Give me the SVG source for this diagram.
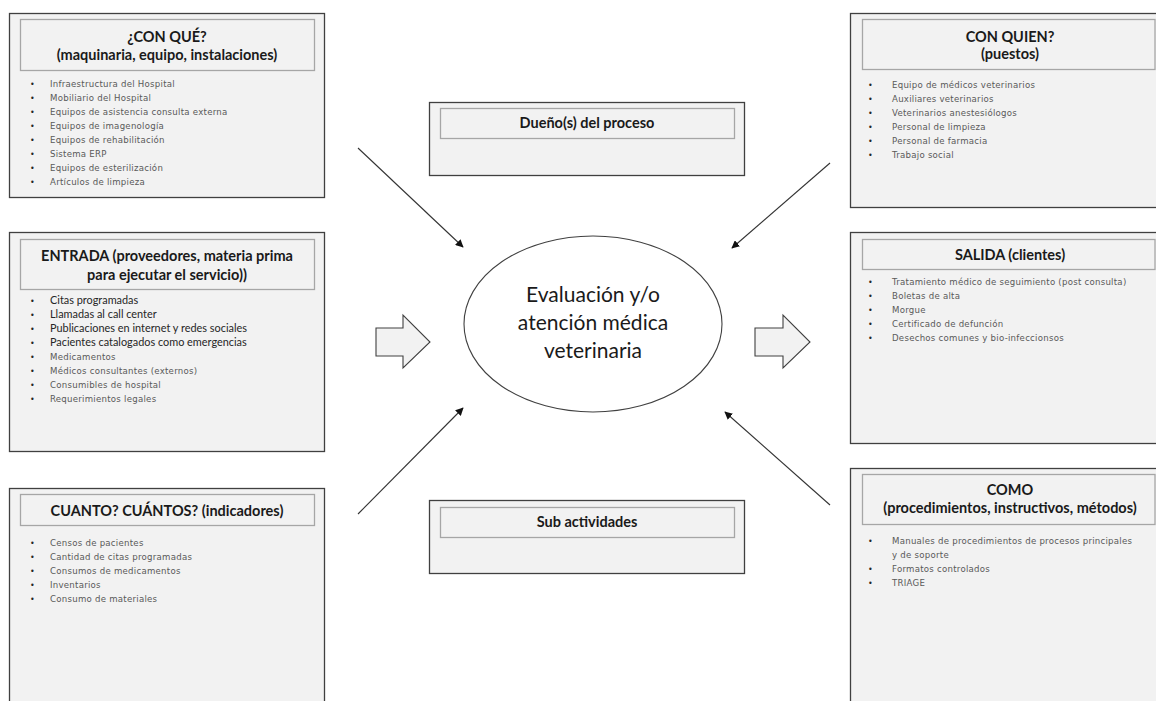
<svg xmlns="http://www.w3.org/2000/svg" width="1156" height="701" viewBox="0 0 1156 701">
  <style>
    .box { fill: #f2f2f2; stroke: #404040; stroke-width: 1.3; }
    .hdr { fill: #f2f2f2; stroke: #a6a6a6; stroke-width: 1.3; }
    .ttl { font-family: Lato, "Liberation Sans", sans-serif; font-weight: bold; font-size: 14.5px; fill: #1a1a1a; text-anchor: middle; }
    .ttl-s { font-family: Lato, "Liberation Sans", sans-serif; font-weight: bold; font-size: 14.5px; fill: #1a1a1a; text-anchor: middle; }
    .it { font-family: "DejaVu Sans", Verdana, sans-serif; font-size: 8.6px; letter-spacing: 0.25px; fill: #595959; }
    .it2 { font-family: Lato, "Liberation Sans", sans-serif; font-size: 10.9px; fill: #262626; }
    .bul { font-family: "DejaVu Sans", sans-serif; font-size: 8px; fill: #262626; }
    .core { font-family: Lato, "Liberation Sans", sans-serif; font-size: 21px; fill: #1a1a1a; text-anchor: middle; }
    .link { stroke: #333; stroke-width: 1.1; fill: none; marker-end: url(#tip); }
    .big { fill: #f2f2f2; stroke: #404040; stroke-width: 1.1; }
  </style>
  <defs>
    <marker id="tip" viewBox="0 0 10 10" refX="9" refY="5" markerWidth="8" markerHeight="8" markerUnits="userSpaceOnUse" orient="auto">
      <path d="M0,0 L10,5 L0,10 z" fill="#111"/>
    </marker>
  </defs>
  <rect width="1156" height="701" fill="#ffffff"/>

  <!-- ¿Con qué? -->
  <g id="con-que">
    <rect class="box" x="9.5" y="13.5" width="315" height="184"/>
    <rect class="hdr" x="20.5" y="19.5" width="294" height="51"/>
    <text class="ttl" x="167" y="42">¿CON QUÉ?</text>
    <text class="ttl" x="167" y="60">(maquinaria, equipo, instalaciones)</text>
    <g class="bul">
      <text x="30" y="86.5">•</text><text x="30" y="100.5">•</text><text x="30" y="114.5">•</text><text x="30" y="128.5">•</text>
      <text x="30" y="142.5">•</text><text x="30" y="156.5">•</text><text x="30" y="170.5">•</text><text x="30" y="184.5">•</text>
    </g>
    <g class="it">
      <text x="50" y="86.5">Infraestructura del Hospital</text>
      <text x="50" y="100.5">Mobiliario del Hospital</text>
      <text x="50" y="114.5">Equipos de asistencia consulta externa</text>
      <text x="50" y="128.5">Equipos de imagenología</text>
      <text x="50" y="142.5">Equipos de rehabilitación</text>
      <text x="50" y="156.5">Sistema ERP</text>
      <text x="50" y="170.5">Equipos de esterilización</text>
      <text x="50" y="184.5">Artículos de limpieza</text>
    </g>
  </g>

  <!-- Entrada -->
  <g id="entrada">
    <rect class="box" x="9.5" y="232.5" width="315" height="219"/>
    <rect class="hdr" x="20.5" y="239.5" width="294" height="50"/>
    <text class="ttl" x="167" y="261">ENTRADA (proveedores, materia prima</text>
    <text class="ttl" x="167" y="280">para ejecutar el servicio))</text>
    <g class="bul">
      <text x="30" y="303.5">•</text><text x="30" y="317.5">•</text><text x="30" y="331.5">•</text><text x="30" y="345.5">•</text>
      <text x="30" y="359.5">•</text><text x="30" y="373.5">•</text><text x="30" y="387.5">•</text><text x="30" y="401.5">•</text>
    </g>
    <g class="it2">
      <text x="50" y="303.5">Citas programadas</text>
      <text x="50" y="317.5">Llamadas al call center</text>
      <text x="50" y="331.5">Publicaciones en internet y redes sociales</text>
      <text x="50" y="345.5">Pacientes catalogados como emergencias</text>
    </g>
    <g class="it">
      <text x="50" y="359.5">Medicamentos</text>
      <text x="50" y="373.5">Médicos consultantes (externos)</text>
      <text x="50" y="387.5">Consumibles de hospital</text>
      <text x="50" y="401.5">Requerimientos legales</text>
    </g>
  </g>

  <!-- Cuánto / cuántos -->
  <g id="cuanto">
    <rect class="box" x="9.5" y="488.5" width="315" height="230"/>
    <rect class="hdr" x="20.5" y="494.5" width="294" height="31"/>
    <text class="ttl" x="167" y="516">CUANTO? CUÁNTOS? (indicadores)</text>
    <g class="bul">
      <text x="30" y="546">•</text><text x="30" y="560">•</text><text x="30" y="574">•</text><text x="30" y="588">•</text><text x="30" y="602">•</text>
    </g>
    <g class="it">
      <text x="50" y="546">Censos de pacientes</text>
      <text x="50" y="560">Cantidad de citas programadas</text>
      <text x="50" y="574">Consumos de medicamentos</text>
      <text x="50" y="588">Inventarios</text>
      <text x="50" y="602">Consumo de materiales</text>
    </g>
  </g>

  <!-- Con quién -->
  <g id="con-quien">
    <rect class="box" x="850.5" y="13.5" width="320" height="194"/>
    <rect class="hdr" x="862.5" y="19.5" width="292.5" height="50"/>
    <text class="ttl" x="1010" y="42">CON QUIEN?</text>
    <text class="ttl" x="1010" y="59">(puestos)</text>
    <g class="bul">
      <text x="868" y="88">•</text><text x="868" y="102">•</text><text x="868" y="116">•</text><text x="868" y="130">•</text><text x="868" y="144">•</text><text x="868" y="158">•</text>
    </g>
    <g class="it">
      <text x="892" y="88">Equipo de médicos veterinarios</text>
      <text x="892" y="102">Auxiliares veterinarios</text>
      <text x="892" y="116">Veterinarios anestesiólogos</text>
      <text x="892" y="130">Personal de limpieza</text>
      <text x="892" y="144">Personal de farmacia</text>
      <text x="892" y="158">Trabajo social</text>
    </g>
  </g>

  <!-- Salida -->
  <g id="salida">
    <rect class="box" x="850.5" y="232.5" width="320" height="211"/>
    <rect class="hdr" x="862.5" y="239.5" width="292.5" height="30"/>
    <text class="ttl" x="1010" y="260">SALIDA (clientes)</text>
    <g class="bul">
      <text x="868" y="285">•</text><text x="868" y="299">•</text><text x="868" y="313">•</text><text x="868" y="327">•</text><text x="868" y="341">•</text>
    </g>
    <g class="it">
      <text x="892" y="285">Tratamiento médico de seguimiento (post consulta)</text>
      <text x="892" y="299">Boletas de alta</text>
      <text x="892" y="313">Morgue</text>
      <text x="892" y="327">Certificado de defunción</text>
      <text x="892" y="341">Desechos comunes y bio-infeccionsos</text>
    </g>
  </g>

  <!-- Cómo -->
  <g id="como">
    <rect class="box" x="850.5" y="468.5" width="320" height="250"/>
    <rect class="hdr" x="862.5" y="474.5" width="292.5" height="50"/>
    <text class="ttl" x="1010" y="495">COMO</text>
    <text class="ttl" x="1010" y="513">(procedimientos, instructivos, métodos)</text>
    <g class="bul">
      <text x="868" y="544">•</text><text x="868" y="572">•</text><text x="868" y="585.5">•</text>
    </g>
    <g class="it">
      <text x="892" y="544">Manuales de procedimientos de procesos principales</text>
      <text x="892" y="558">y de soporte</text>
      <text x="892" y="572">Formatos controlados</text>
      <text x="892" y="585.5">TRIAGE</text>
    </g>
  </g>

  <!-- Dueño del proceso -->
  <g id="duenio">
    <rect class="box" x="429.5" y="102.5" width="315" height="73"/>
    <rect class="hdr" x="440.5" y="108.5" width="294" height="30"/>
    <text class="ttl-s" x="587" y="128">Dueño(s) del proceso</text>
  </g>

  <!-- Sub actividades -->
  <g id="sub-actividades">
    <rect class="box" x="429.5" y="500.5" width="315" height="73"/>
    <rect class="hdr" x="440.5" y="507.5" width="294" height="30"/>
    <text class="ttl-s" x="587" y="527">Sub actividades</text>
  </g>

  <!-- Proceso central -->
  <g id="proceso">
    <ellipse cx="593" cy="324" rx="129" ry="88" fill="#ffffff" stroke="#404040" stroke-width="1.1"/>
    <text class="core" x="593" y="302">Evaluación y/o</text>
    <text class="core" x="593" y="330">atención médica</text>
    <text class="core" x="593" y="358">veterinaria</text>
  </g>

  <!-- Connectors -->
  <g id="connectors">
    <line class="link" x1="358" y1="148" x2="463" y2="247"/>
    <line class="link" x1="830" y1="163" x2="732" y2="248"/>
    <line class="link" x1="358" y1="514" x2="463" y2="408"/>
    <line class="link" x1="830" y1="505" x2="725" y2="412"/>
    <path class="big" d="M376,328 H403 V315 L430,342 L403,368 V356 H376 Z"/>
    <path class="big" d="M755,328 H783 V315 L810,342 L783,368 V356 H755 Z"/>
  </g>
</svg>
